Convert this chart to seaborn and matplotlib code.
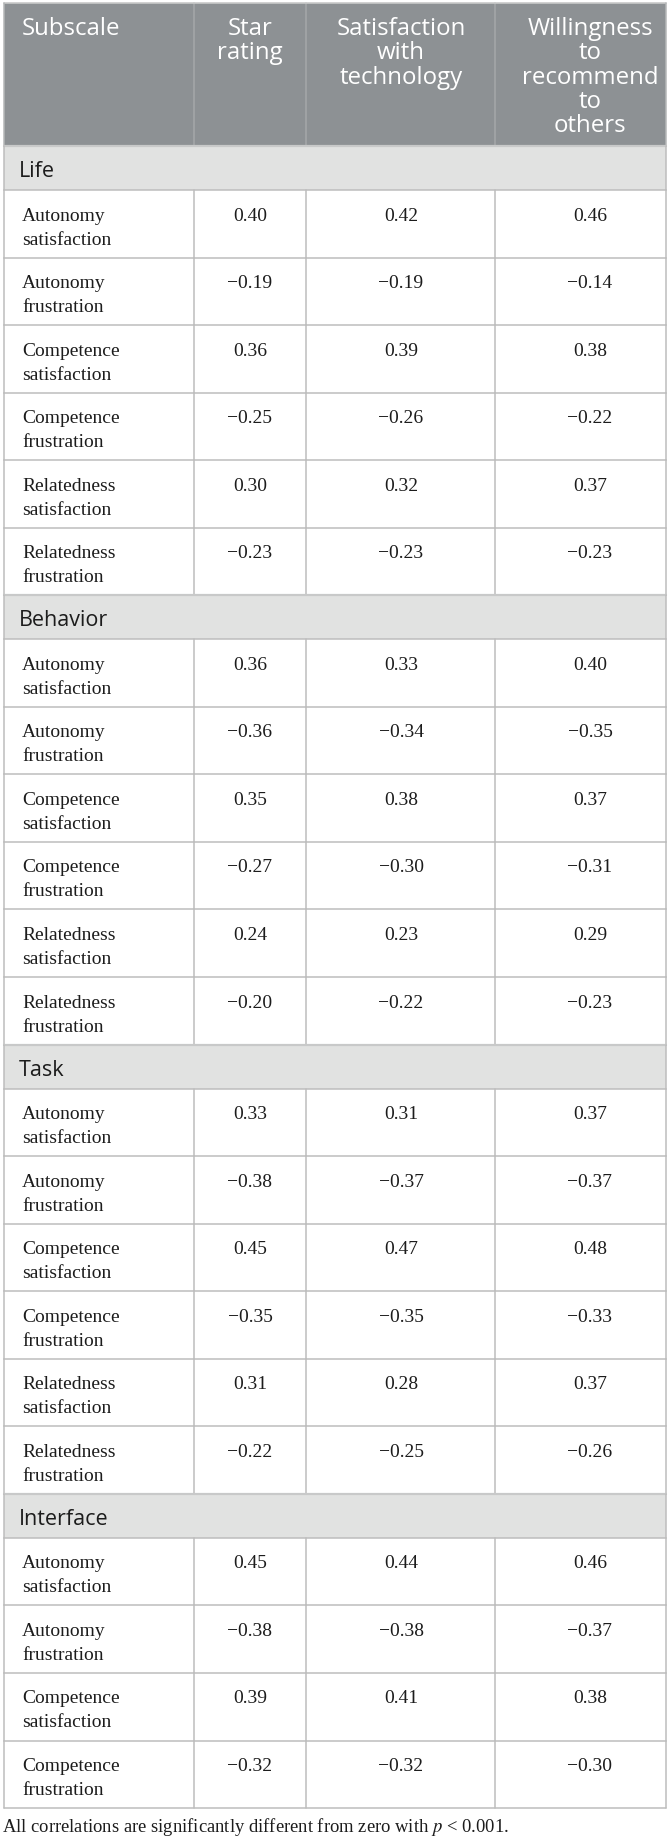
import numpy as np
import pandas as pd
import matplotlib.pyplot as plt
import seaborn as sns
from matplotlib.patches import Rectangle

# data
groups = ["Life", "Behavior", "Task", "Interface"]
group_sizes = [6, 6, 6, 4]
need_labels = [
    "Autonomy\nsatisfaction", "Autonomy\nfrustration",
    "Competence\nsatisfaction", "Competence\nfrustration",
    "Relatedness\nsatisfaction", "Relatedness\nfrustration",
]
col_headers = ["Subscale", "Star\nrating", "Satisfaction\nwith\ntechnology",
               "Willingness\nto\nrecommend\nto\nothers"]
star_rating = [0.40, -0.19, 0.36, -0.25, 0.30, -0.23,
               0.36, -0.36, 0.35, -0.27, 0.24, -0.20,
               0.33, -0.38, 0.45, -0.35, 0.31, -0.22,
               0.45, -0.38, 0.39, -0.32]
satisfaction_tech = [0.42, -0.19, 0.39, -0.26, 0.32, -0.23,
                     0.33, -0.34, 0.38, -0.30, 0.23, -0.22,
                     0.31, -0.37, 0.47, -0.35, 0.28, -0.25,
                     0.44, -0.38, 0.41, -0.32]
willingness = [0.46, -0.14, 0.38, -0.22, 0.37, -0.23,
               0.40, -0.35, 0.37, -0.31, 0.29, -0.23,
               0.37, -0.37, 0.48, -0.33, 0.37, -0.26,
               0.46, -0.37, 0.38, -0.30]
footnote = "All correlations are significantly different from zero with $p$ < 0.001."

rows = []
for g, n in zip(groups, group_sizes):
    for lab in need_labels[:n]:
        rows.append((g, lab))
df = pd.DataFrame(rows, columns=["group", "label"])
df["star"] = star_rating
df["sat"] = satisfaction_tech
df["will"] = willingness


def fmt(v):
    s = f"{abs(v):.2f}"
    return ("\u2212" + s) if v < 0 else s


sns.set_theme(style="white")
plt.rcParams["mathtext.fontset"] = "stix"

W, H = 671, 1839
fig = plt.figure(figsize=(W / 100, H / 100), dpi=100)
ax = fig.add_axes([0, 0, 1, 1])
ax.set_xlim(0, W)
ax.set_ylim(H, 0)
ax.axis("off")

left, right = 4, 666
col_x = [194, 306, 495]
centers = [250, 401, 590]
head_bot = 146
grp_h = 44
row_h = 67.55
line_c = "#bdbdbd"
head_c = "#8d9194"
band_c = "#e1e2e1"
txt_c = "#1c1c1c"
sans = "Open Sans"
serif = "Liberation Serif"
body_fs = 14

# header
ax.add_patch(Rectangle((left, 3), right - left, head_bot - 3, fc=head_c, ec="none"))
for x in col_x:
    ax.plot([x, x], [3, head_bot], color="#a5a8aa", lw=1.1)
ax.plot([left, right], [3, 3], color="#c9caca", lw=1.2)
ax.plot([left, left], [3, head_bot], color="#b5b7b8", lw=1.1)
ax.plot([right, right], [3, head_bot], color="#b5b7b8", lw=1.1)
for j, hdr in enumerate(col_headers):
    for k, line in enumerate(hdr.split("\n")):
        yb = 35 + k * 24.3
        if j == 0:
            ax.text(22, yb, line, ha="left", va="baseline", color="white",
                    fontsize=17.3, family=sans)
        else:
            ax.text(centers[j - 1], yb, line, ha="center", va="baseline",
                    color="white", fontsize=17.3, family=sans)

# body
y = head_bot
for g in groups:
    sub = df[df["group"] == g]
    ax.add_patch(Rectangle((left, y), right - left, grp_h, fc=band_c, ec="none"))
    ax.plot([left, right], [y, y], color="#c8c9c9", lw=1.6)
    ax.plot([left, left], [y, y + grp_h], color=line_c, lw=1.1)
    ax.plot([right, right], [y, y + grp_h], color=line_c, lw=1.1)
    ax.text(19, y + 31, g, ha="left", va="baseline", color=txt_c,
            fontsize=15.5, family=sans)
    y += grp_h
    for _, r in sub.iterrows():
        ax.plot([left, right], [y, y], color=line_c, lw=1.1)
        for x in [left] + col_x + [right]:
            ax.plot([x, x], [y, y + row_h], color=line_c, lw=1.1)
        for k, line in enumerate(r["label"].split("\n")):
            ax.text(22, y + 30.5 + k * 24, line, ha="left", va="baseline",
                    color=txt_c, fontsize=body_fs, family=serif)
        for cx, v in zip(centers, [r["star"], r["sat"], r["will"]]):
            ax.text(cx, y + 30.5, fmt(v), ha="center", va="baseline",
                    color=txt_c, fontsize=body_fs, family=serif)
        y += row_h
ax.plot([left, right], [y, y], color=line_c, lw=1.1)

ax.text(2, 1832, footnote, ha="left", va="baseline", color=txt_c,
        fontsize=13.4, family=serif)

fig.savefig("out.png", dpi=100, facecolor="white")
